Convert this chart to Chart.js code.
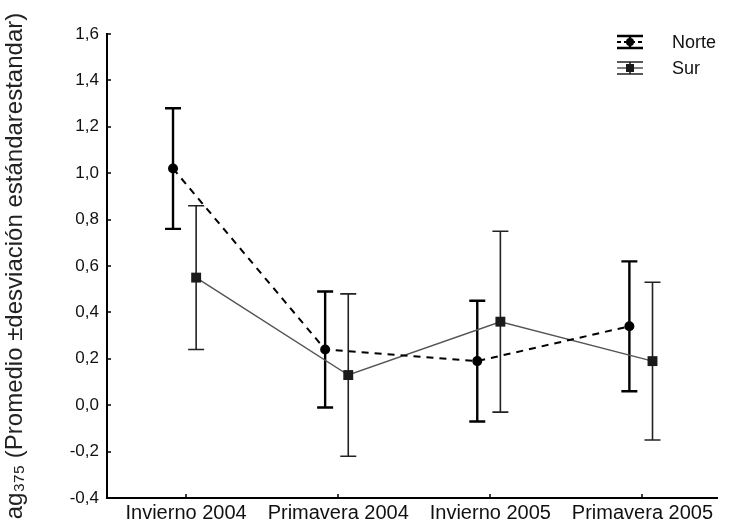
<!DOCTYPE html>
<html>
<head>
<meta charset="utf-8">
<script src="https://cdn.jsdelivr.net/npm/chart.js@4/dist/chart.umd.min.js"></script>
<style>
  html, body { margin: 0; padding: 0; background: #fff; }
  #wrap { width: 730px; height: 526px; }
</style>
</head>
<body>
<div id="wrap"><canvas id="chart" width="730" height="526"></canvas></div>
<script>
// Seasons sampled
const categories = ['Invierno 2004', 'Primavera 2004', 'Invierno 2005', 'Primavera 2005'];

// Mean and standard deviation per site
const norteMean = [1.02, 0.24, 0.19, 0.34];
const norteSD   = [0.26, 0.25, 0.26, 0.28];
const surMean   = [0.55, 0.13, 0.36, 0.19];
const surSD     = [0.31, 0.35, 0.39, 0.34];

const seriesNames = ['Norte', 'Sur'];

// Value axis ticks
const yTickValues = [-0.4, -0.2, 0.0, 0.2, 0.4, 0.6, 0.8, 1.0, 1.2, 1.4, 1.6];
const yTickLabels = ['-0,4', '-0,2', '0,0', '0,2', '0,4', '0,6', '0,8', '1,0', '1,2', '1,4', '1,6'];

// Horizontal dodge so the two sites do not overlap at a season
const NORTE_SHIFT = -0.086;
const SUR_SHIFT = 0.066;

const FONT = "'Liberation Sans', Arial, sans-serif";

function toPoints(means, shift) {
  return means.map((m, i) => ({ x: i + shift, y: m }));
}

// White page background
const bgPlugin = {
  id: 'bg',
  beforeDraw(chart) {
    const ctx = chart.ctx;
    ctx.save();
    ctx.fillStyle = '#fff';
    ctx.fillRect(0, 0, chart.width, chart.height);
    ctx.restore();
  }
};

// Mean ± SD whiskers, drawn under the markers
const errorBarPlugin = {
  id: 'errorBars',
  beforeDatasetsDraw(chart) {
    const ctx = chart.ctx;
    const yScale = chart.scales.y;
    chart.data.datasets.forEach((ds, di) => {
      const meta = chart.getDatasetMeta(di);
      ctx.save();
      ctx.strokeStyle = ds.errorColor;
      ctx.lineWidth = ds.errorWidth;
      meta.data.forEach((pt, j) => {
        const m = ds.data[j].y;
        const sd = ds.sd[j];
        const x = pt.x;
        const yHi = yScale.getPixelForValue(m + sd);
        const yLo = yScale.getPixelForValue(m - sd);
        const cap = 8;
        ctx.beginPath();
        ctx.moveTo(x, yHi); ctx.lineTo(x, yLo);
        ctx.moveTo(x - cap, yHi); ctx.lineTo(x + cap, yHi);
        ctx.moveTo(x - cap, yLo); ctx.lineTo(x + cap, yLo);
        ctx.stroke();
      });
      ctx.restore();
    });
  }
};

// Short tick marks on the inner side of both axes
const innerTicksPlugin = {
  id: 'innerTicks',
  afterDraw(chart) {
    const ctx = chart.ctx;
    const { x, y } = chart.scales;
    ctx.save();
    ctx.strokeStyle = '#000';
    ctx.lineWidth = 1.5;
    ctx.beginPath();
    y.ticks.forEach(t => {
      const py = Math.round(y.getPixelForValue(t.value));
      ctx.moveTo(y.right, py); ctx.lineTo(y.right + 4, py);
    });
    x.ticks.forEach(t => {
      const px = Math.round(x.getPixelForValue(t.value));
      ctx.moveTo(px, x.top); ctx.lineTo(px, x.top - 4);
    });
    ctx.stroke();
    ctx.restore();
  }
};

// Legend box in the upper right corner of the plot
const legendPlugin = {
  id: 'siteLegend',
  afterDraw(chart) {
    const ctx = chart.ctx;
    const area = chart.chartArea;
    const iconL = area.right - 100, iconR = area.right - 74;
    const textX = area.right - 45;
    const rows = [area.top + 8, area.top + 34];
    chart.data.datasets.forEach((ds, i) => {
      const cy = rows[i];
      const cx = (iconL + iconR) / 2;
      ctx.save();
      ctx.strokeStyle = ds.errorColor;
      ctx.lineWidth = ds.errorWidth;
      ctx.beginPath();
      ctx.moveTo(iconL, cy - 6); ctx.lineTo(iconR, cy - 6);
      ctx.moveTo(iconL, cy + 6); ctx.lineTo(iconR, cy + 6);
      ctx.moveTo(cx, cy - 6); ctx.lineTo(cx, cy + 6);
      ctx.stroke();
      ctx.strokeStyle = ds.borderColor;
      ctx.lineWidth = ds.borderWidth;
      ctx.setLineDash(ds.borderDash ? [4, 3] : []);
      ctx.beginPath();
      ctx.moveTo(iconL, cy); ctx.lineTo(iconR, cy);
      ctx.stroke();
      ctx.setLineDash([]);
      ctx.fillStyle = ds.pointBackgroundColor;
      if (ds.pointStyle === 'rect') {
        ctx.fillRect(cx - 4, cy - 4, 8, 8);
      } else {
        ctx.beginPath();
        ctx.arc(cx, cy, 4, 0, Math.PI * 2);
        ctx.fill();
      }
      ctx.fillStyle = '#111';
      ctx.font = '18px ' + FONT;
      ctx.textBaseline = 'middle';
      ctx.textAlign = 'left';
      ctx.fillText(ds.label, textX, cy + 1);
      ctx.restore();
    });
  }
};

new Chart(document.getElementById('chart'), {
  type: 'line',
  data: {
    datasets: [
      {
        label: seriesNames[0],
        data: toPoints(norteMean, NORTE_SHIFT),
        sd: norteSD,
        borderColor: '#000',
        borderWidth: 2,
        borderDash: [7, 6],
        pointStyle: 'circle',
        pointRadius: 5,
        pointBackgroundColor: '#000',
        pointBorderColor: '#000',
        pointBorderWidth: 0,
        errorColor: '#000',
        errorWidth: 2.4,
        tension: 0
      },
      {
        label: seriesNames[1],
        data: toPoints(surMean, SUR_SHIFT),
        sd: surSD,
        borderColor: '#555',
        borderWidth: 1.5,
        pointStyle: 'rect',
        pointRadius: 7,
        pointBackgroundColor: '#1a1a1a',
        pointBorderColor: '#1a1a1a',
        pointBorderWidth: 0,
        errorColor: '#222',
        errorWidth: 1.6,
        tension: 0
      }
    ]
  },
  options: {
    responsive: false,
    animation: false,
    devicePixelRatio: 1,
    layout: { padding: { top: 34, right: 13, left: 0, bottom: 0 } },
    plugins: {
      legend: { display: false },
      tooltip: { enabled: false }
    },
    scales: {
      x: {
        type: 'linear',
        min: -0.52,
        max: 3.49,
        grid: { display: false, drawTicks: false },
        border: { display: true, color: '#000', width: 2 },
        afterBuildTicks: s => { s.ticks = categories.map((c, i) => ({ value: i })); },
        afterFit: s => { s.height = 28; },
        ticks: {
          autoSkip: false,
          maxRotation: 0,
          padding: 3,
          color: '#111',
          font: { family: FONT, size: 20 },
          callback: v => categories[v]
        }
      },
      y: {
        type: 'linear',
        min: -0.4,
        max: 1.6,
        grid: { display: false, drawTicks: false },
        border: { display: true, color: '#000', width: 2 },
        afterBuildTicks: s => { s.ticks = yTickValues.map(v => ({ value: v })); },
        afterFit: s => { s.width = 107; },
        ticks: {
          padding: 8,
          color: '#111',
          font: { family: FONT, size: 17 },
          callback: (v, i) => yTickLabels[i]
        },
        title: {
          display: true,
          text: 'ag₃₇₅ (Promedio ±desviación estándarestandar)',
          color: '#222',
          font: { family: FONT, size: 24 },
          padding: { top: 1, bottom: 0 }
        }
      }
    }
  },
  plugins: [bgPlugin, errorBarPlugin, innerTicksPlugin, legendPlugin]
});
</script>
</body>
</html>
